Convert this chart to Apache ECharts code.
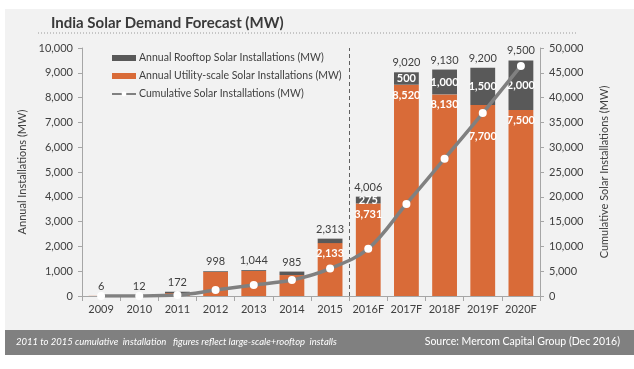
<!DOCTYPE html>
<html><head><meta charset="utf-8">
<script src="https://cdn.jsdelivr.net/npm/echarts@6/dist/echarts.min.js"></script>
<style>html,body{margin:0;padding:0;background:#fff}#c{width:634px;height:369px}</style>
</head><body><div id="c"></div>
<script>
const categories = ['2009','2010','2011','2012','2013','2014','2015','2016F','2017F','2018F','2019F','2020F'];
const utilityScale = [6, 12, 120, 968, 1010, 845, 2133, 3731, 8520, 8130, 7700, 7500];
const rooftop = [0, 0, 52, 30, 34, 140, 180, 275, 500, 1000, 1500, 2000];
const totals = [6, 12, 172, 998, 1044, 985, 2313, 4006, 9020, 9130, 9200, 9500];
const cumulative = [6, 18, 190, 1188, 2232, 3217, 5530, 9536, 18556, 27686, 36886, 46386];
const leftTicks = {min: 0, max: 10000, interval: 1000};
const rightTicks = {min: 0, max: 50000, interval: 5000};
const forecastStartIndex = 7;
const utilityLabelFrom = 6;
const rooftopLabelFrom = 7;

const FONT = 'Lato';
const TXT = '#404040';
const fmt = v => v.toLocaleString('en-US');

const chart = echarts.init(document.getElementById('c'), null, {renderer: 'canvas'});
chart.setOption({
  backgroundColor: '#ffffff',
  textStyle: {fontFamily: FONT},
  animation: false,
  graphic: [
    {type: 'rect', z: -10, silent: true, shape: {x: 5, y: 9, width: 629, height: 321}, style: {fill: '#f2f2f2'}},
    {type: 'line', z: 1, silent: true, shape: {x1: 38, y1: 33, x2: 576, y2: 33}, style: {stroke: '#9a9a9a', lineWidth: 1, lineDash: [1, 2]}},
    {type: 'rect', z: 1, silent: true, shape: {x: 5, y: 330, width: 629, height: 25}, style: {fill: '#808080'}},
    {type: 'text', z: 2, left: 16, top: 337, style: {text: '2011 to 2015 cumulative  installation   figures reflect large-scale+rooftop  installs', fill: '#ffffff', font: 'italic 9.5px ' + FONT}},
    {type: 'text', z: 2, right: 14, top: 336, style: {text: 'Source: Mercom Capital Group (Dec 2016)', fill: '#ffffff', font: '10.5px ' + FONT}}
  ],
  title: {
    text: 'India Solar Demand Forecast (MW)', left: 46, top: 11,
    textStyle: {fontFamily: FONT, fontSize: 15, fontWeight: 'bold', color: '#3a3a3a'}
  },
  legend: {
    orient: 'vertical', left: 106, top: 46, itemWidth: 24, itemHeight: 6, itemGap: 4,
    data: [
      {name: 'Annual Rooftop Solar Installations (MW)', icon: 'rect'},
      {name: 'Annual Utility-scale Solar Installations (MW)', icon: 'rect'},
      {name: 'Cumulative Solar Installations (MW)'}
    ],
    textStyle: {fontFamily: FONT, fontSize: 10.5, color: TXT, lineHeight: 14, padding: [0, 0, 0, -2]}
  },
  grid: {left: 82, right: 94, top: 48, bottom: 73},
  xAxis: [{
    type: 'category', data: categories,
    axisLine: {lineStyle: {color: '#a6a6a6'}},
    axisTick: {show: true, length: 5, lineStyle: {color: '#a6a6a6'}},
    axisLabel: {color: TXT, fontSize: 11, margin: 8, fontFamily: FONT, interval: 0, hideOverlap: false}
  }, {
    type: 'value', min: 0, max: categories.length, show: false
  }],
  yAxis: [{
    type: 'value', min: leftTicks.min, max: leftTicks.max, interval: leftTicks.interval,
    name: 'Annual Installations (MW)', nameLocation: 'middle', nameGap: 48,
    nameTextStyle: {color: TXT, fontSize: 11, fontFamily: FONT},
    axisLine: {show: true, lineStyle: {color: '#a6a6a6'}},
    axisTick: {show: true, length: 4, lineStyle: {color: '#a6a6a6'}},
    splitLine: {show: false},
    axisLabel: {color: TXT, fontSize: 11, margin: 9, formatter: fmt, fontFamily: FONT}
  }, {
    type: 'value', min: rightTicks.min, max: rightTicks.max, interval: rightTicks.interval,
    name: 'Cumulative Solar Installations (MW)', nameLocation: 'middle', nameGap: 59,
    nameRotate: 90,
    nameTextStyle: {color: TXT, fontSize: 11, fontFamily: FONT},
    axisLine: {show: true, lineStyle: {color: '#a6a6a6'}},
    axisTick: {show: true, length: 4, lineStyle: {color: '#a6a6a6'}},
    splitLine: {show: false},
    axisLabel: {color: TXT, fontSize: 11, margin: 9, formatter: fmt, fontFamily: FONT}
  }],
  series: [
    {
      name: 'Annual Utility-scale Solar Installations (MW)', type: 'bar', stack: 'a', barWidth: '65%',
      itemStyle: {color: '#d96b38'},
      data: utilityScale.map((v, i) => ({
        value: v,
        label: {
          show: i >= utilityLabelFrom, position: 'insideTop', distance: 5,
          offset: [0, i === 10 ? 21 : 0],
          color: '#ffffff', fontSize: 11, fontWeight: 'bold', fontFamily: FONT,
          textBorderWidth: 0, formatter: p => fmt(p.value)
        }
      }))
    },
    {
      name: 'Annual Rooftop Solar Installations (MW)', type: 'bar', stack: 'a', barWidth: '65%',
      itemStyle: {color: '#595959'},
      data: rooftop.map((v, i) => ({
        value: v,
        label: {
          show: i >= rooftopLabelFrom, position: 'inside',
          color: '#ffffff', fontSize: 11, fontWeight: 'bold', fontFamily: FONT,
          textBorderWidth: 0, formatter: p => fmt(p.value)
        }
      }))
    },
    {
      name: 'total', type: 'bar', barGap: '-100%', barWidth: '65%', z: 1,
      itemStyle: {color: 'rgba(0,0,0,0)'},
      label: {show: true, position: 'top', distance: 4, color: TXT, fontSize: 11, fontFamily: FONT, formatter: p => fmt(p.value)},
      data: totals
    },
    {
      name: 'Cumulative Solar Installations (MW)', type: 'line', yAxisIndex: 1, smooth: 0.35, z: 5,
      symbol: 'circle', symbolSize: 8,
      lineStyle: {color: '#808080', width: 3.5},
      itemStyle: {color: '#ffffff', borderWidth: 0},
      data: cumulative
    },
    {
      name: 'divider', type: 'line', xAxisIndex: 1, yAxisIndex: 0, data: [], silent: true,
      markLine: {
        silent: true, symbol: 'none', label: {show: false},
        lineStyle: {color: '#606060', type: [4, 3], width: 1},
        data: [{xAxis: forecastStartIndex}]
      }
    }
  ]
});
</script></body></html>
